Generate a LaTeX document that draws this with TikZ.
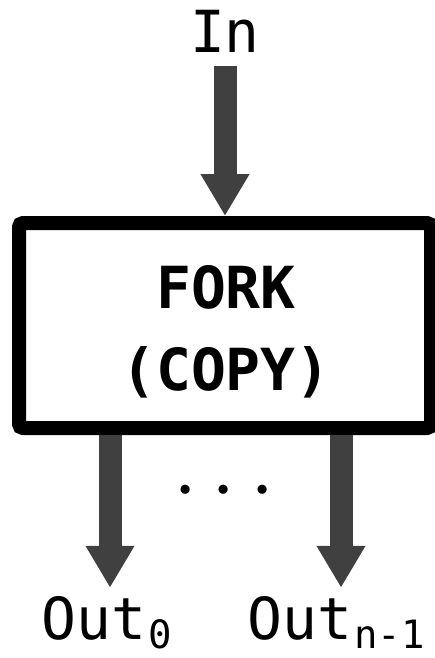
\documentclass[tikz,border=0pt]{standalone}
\usepackage{fix-cm}
\usepackage{fontspec}
\setmonofont{DejaVu Sans Mono}
\usetikzlibrary{arrows.meta}
\definecolor{arrowgray}{HTML}{404040}
\tikzset{
  fat/.style={draw=arrowgray, line width=23pt, -{Triangle[length=42pt,width=46pt]}},
  lbl/.style={font=\ttfamily\fontsize{58}{58}\selectfont, inner sep=0pt, anchor=base},
  blk/.style={draw=black, line width=14pt, rounded corners=4pt, minimum width=412pt, minimum height=205pt, inner sep=0pt}
}
\newcommand{\subtxt}[1]{\raisebox{-9pt}{\fontsize{39}{39}\selectfont #1}}
\begin{document}
\begin{tikzpicture}[x=1pt,y=-1pt]
\useasboundingbox (0,0) rectangle (434,658);
\node[lbl] (in) at (225,53) {In};
\node[blk] (box) at (225,325.5) {};
\node[font=\ttfamily\bfseries\fontsize{58}{82}\selectfont, align=center, inner sep=0pt, anchor=base] (title) at (226,390) {FORK\\(COPY)};
\node[font=\fontsize{87}{87}\selectfont, inner sep=0pt] (dots) at (224,492) {$\cdots$};
\node[lbl] (out0) at (107,639) {Out\kern2pt\subtxt{0}};
\node[lbl] (outn) at (336,639) {Out\kern2pt\subtxt{n-1}};
\draw[fat] ([yshift=-13pt]in.south) -- (box.north);
\draw[fat] ([xshift=3pt]out0.north |- box.south) -- ([xshift=3pt,yshift=8pt]out0.north);
\draw[fat] ([xshift=5pt]outn.north |- box.south) -- ([xshift=5pt,yshift=8pt]outn.north);
\end{tikzpicture}
\end{document}
